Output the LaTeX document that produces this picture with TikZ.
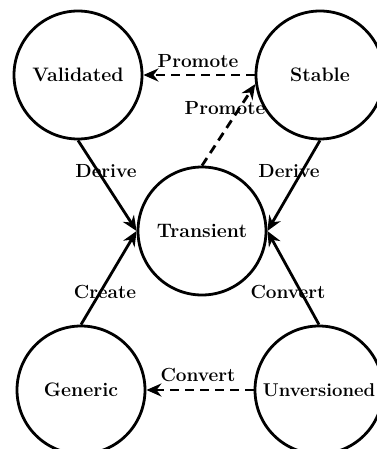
\documentclass[tikz,border=0pt]{standalone}
\usetikzlibrary{arrows.meta}
\begin{document}
\begin{tikzpicture}[x=1pt,y=-1pt,
  state/.style={circle,draw,line width=2.8pt,minimum size=128pt,inner sep=0pt,font=\fontsize{19.5}{21}\selectfont\bfseries},
  lbl/.style={inner sep=0pt,font=\fontsize{19}{21}\selectfont\bfseries},
  conn/.style={line width=2.8pt,-{Stealth[length=15pt,width=13pt]}},
  dconn/.style={conn,dash pattern=on 9pt off 6pt}]
\useasboundingbox (0,0) rectangle (376,449);
\node[state] (V) at (78,75) {Validated};
\node[state] (S) at (320,75) {Stable};
\node[state] (T) at (202,231) {Transient};
\node[state] (G) at (81,390) {Generic};
\node[state,font=\fontsize{18.5}{20}\selectfont\bfseries] (U) at (319,390) {Unversioned};
\draw[dconn] (S) -- (V);
\draw[dconn] (T.north) -- (S.188);
\draw[conn] (V.south) -- (T.west);
\draw[conn] (S.south) -- (T.east);
\draw[conn] (G.north) -- (T.west);
\draw[conn] (U.north) -- (T.east);
\draw[dconn] (U) -- (G);
\node[lbl] (l1) at (198,61) {Promote};
\node[lbl] (l2) at (225,108) {Promote};
\node[lbl] (l3) at (106,171) {Derive};
\node[lbl] (l4) at (289,171) {Derive};
\node[lbl] (l5) at (105,292) {Create};
\node[lbl] (l6) at (288,292) {Convert};
\node[lbl] (l7) at (198,375) {Convert};
\end{tikzpicture}
\end{document}
